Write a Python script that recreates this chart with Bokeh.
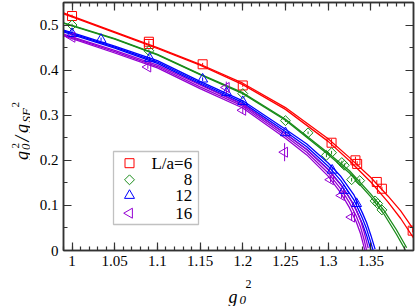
import math
from bokeh.plotting import figure
from bokeh.layouts import row, column
from bokeh.models import Range1d, LinearAxis, FixedTicker, Label, BoxAnnotation
from bokeh.core.properties import value
from bokeh.embed import file_html
from bokeh.resources import INLINE

# ---------------- data ----------------
series_names = ["L/a=6", "8", "12", "16"]

red_x = [1.0, 1.09, 1.09, 1.153, 1.2, 1.304, 1.332, 1.334, 1.357, 1.363, 1.399]
red_y = [0.520, 0.463, 0.458, 0.413, 0.366, 0.239, 0.200, 0.192, 0.152, 0.137, 0.044]
red_e = [0.003, 0.003, 0.003, 0.003, 0.003, 0.008, 0.008, 0.006, 0.004, 0.004, 0.004]

green_x = [1.0, 1.09, 1.2, 1.25, 1.2765, 1.298, 1.304, 1.316, 1.319, 1.3275, 1.337, 1.355, 1.358, 1.363]
green_y = [0.500, 0.443, 0.348, 0.288, 0.261, 0.211, 0.217, 0.195, 0.189, 0.157, 0.155, 0.110, 0.104, 0.090]
green_e = [0.003, 0.003, 0.003, 0.003, 0.003, 0.004, 0.004, 0.004, 0.004, 0.004, 0.004, 0.005, 0.005, 0.004]

blue_x = [1.0, 1.034, 1.0909, 1.153, 1.181, 1.2, 1.25, 1.3047, 1.3184, 1.3333]
blue_y = [0.481, 0.468, 0.426, 0.380, 0.350, 0.330, 0.261, 0.178, 0.133, 0.104]
blue_e = [0.008, 0.004, 0.004, 0.004, 0.004, 0.004, 0.004, 0.006, 0.006, 0.006]

purple_x = [1.0, 1.0888, 1.1807, 1.2, 1.249, 1.3028, 1.3157, 1.3275]
purple_y = [0.473, 0.407, 0.3615, 0.311, 0.218, 0.157, 0.122, 0.074]
purple_e = [0.005, 0.004, 0.013, 0.008, 0.020, 0.006, 0.006, 0.008]

# fitted curves (band lines)
red_cx = [0.99, 1.0, 1.05, 1.1, 1.15, 1.2, 1.25, 1.3, 1.325, 1.35, 1.37, 1.385, 1.4]
red_lo = [0.525, 0.518, 0.483, 0.448, 0.411, 0.368, 0.313, 0.242, 0.199, 0.152, 0.108, 0.071, 0.028]
red_hi = [0.527, 0.520, 0.485, 0.450, 0.413, 0.371, 0.317, 0.248, 0.206, 0.162, 0.121, 0.088, 0.047]

green_cx = [0.99, 1.0, 1.05, 1.1, 1.15, 1.2, 1.25, 1.3, 1.325, 1.35, 1.365, 1.38, 1.392]
green_lo = [0.504, 0.498, 0.469, 0.434, 0.390, 0.348, 0.289, 0.213, 0.172, 0.119, 0.082, 0.036, -0.004]
green_hi = [0.505, 0.499, 0.470, 0.435, 0.391, 0.350, 0.291, 0.216, 0.177, 0.125, 0.090, 0.046, 0.006]

blue_cx = [0.99, 1.0, 1.05, 1.1, 1.15, 1.2, 1.25, 1.275, 1.3, 1.315, 1.33, 1.34, 1.345, 1.35, 1.355]
blue_c = [0.487, 0.481, 0.451, 0.418, 0.372, 0.328, 0.264, 0.230, 0.187, 0.155, 0.113, 0.072, 0.048, 0.018, -0.015]
blue_lo = [0.485, 0.479, 0.449, 0.415, 0.369, 0.324, 0.259, 0.224, 0.180, 0.146, 0.102, 0.060, 0.034, 0.002, -0.030]
blue_hi = [0.489, 0.483, 0.453, 0.421, 0.375, 0.332, 0.269, 0.236, 0.194, 0.164, 0.124, 0.084, 0.062, 0.034, 0.003]

purple_cx = [0.99, 1.0, 1.05, 1.1, 1.15, 1.2, 1.25, 1.275, 1.3, 1.315, 1.325, 1.333, 1.338, 1.342, 1.347]
purple_c = [0.478, 0.472, 0.441, 0.408, 0.363, 0.320, 0.254, 0.218, 0.172, 0.136, 0.106, 0.076, 0.052, 0.025, -0.015]
purple_lo = [0.476, 0.470, 0.438, 0.405, 0.359, 0.316, 0.249, 0.212, 0.165, 0.127, 0.095, 0.063, 0.037, 0.008, -0.035]
purple_hi = [0.480, 0.474, 0.444, 0.411, 0.367, 0.324, 0.259, 0.224, 0.179, 0.145, 0.117, 0.089, 0.067, 0.042, 0.005]

x_ticks = [1.0, 1.05, 1.1, 1.15, 1.2, 1.25, 1.3, 1.35]
x_tick_labels = ["1", "1.05", "1.1", "1.15", "1.2", "1.25", "1.3", "1.35"]
y_ticks = [0.0, 0.1, 0.2, 0.3, 0.4, 0.5]
y_tick_labels = ["0", "0.1", "0.2", "0.3", "0.4", "0.5"]

# ---------------- layout / style ----------------
RED, GREEN, BLUE, PURPLE = "#ff0000", "#1a8c1a", "#0000ff", "#9400d3"
FRAME = "#333333"
SERIF = "Liberation Serif"

YW = 30                # width of the y-label strip
XH = 34                # height of the x-label strip
W, H = 415 - YW, 306 - XH
BL, BR, BT, BB = 33, 2, 2, 22
FW, FH = W - BL - BR, H - BT - BB
X0, X1 = 0.99, 1.40
Y0, Y1 = 0.0, 0.55

p = figure(width=W, height=H, x_range=Range1d(X0, X1), y_range=Range1d(Y0, Y1),
           output_backend="svg", toolbar_location=None, title=None,
           min_border_left=BL, min_border_right=BR, min_border_top=BT, min_border_bottom=BB)
p.grid.visible = False
p.outline_line_color = FRAME
p.outline_line_width = 1.5
p.background_fill_color = "white"
p.border_fill_color = "white"

x_minor = [round(0.99 + 0.01 * i, 2) for i in range(41)]
y_minor = [round(0.05 + 0.1 * i, 2) for i in range(6)]


def style_axis(ax, ticks, minor, labels, show):
    ax.ticker = FixedTicker(ticks=ticks, minor_ticks=minor)
    ax.axis_line_color = FRAME
    ax.axis_line_width = 1.5
    ax.major_tick_in = 8
    ax.major_tick_out = 0
    ax.minor_tick_in = 4
    ax.minor_tick_out = 0
    ax.major_tick_line_color = FRAME
    ax.minor_tick_line_color = FRAME
    ax.major_tick_line_width = 1.2
    ax.minor_tick_line_width = 1.2
    ax.major_label_text_font = SERIF
    if show:
        ax.major_label_overrides = dict(zip(ticks, labels))
        ax.major_label_text_color = "black"
        ax.major_label_text_font_size = "15px"
        ax.major_label_standoff = 5
    else:
        ax.major_label_text_color = None
        ax.major_label_text_font_size = "0px"
        ax.major_label_standoff = 0


style_axis(p.xaxis[0], x_ticks, x_minor, x_tick_labels, True)
style_axis(p.yaxis[0], y_ticks, y_minor, y_tick_labels, True)
top_ax = LinearAxis()
right_ax = LinearAxis()
style_axis(top_ax, x_ticks, x_minor, x_tick_labels, False)
style_axis(right_ax, y_ticks, y_minor, y_tick_labels, False)
p.add_layout(top_ax, "above")
p.add_layout(right_ax, "right")

# curves
for xs, ys, c in [(red_cx, red_lo, RED), (red_cx, red_hi, RED),
                  (green_cx, green_lo, GREEN), (green_cx, green_hi, GREEN),
                  (blue_cx, blue_lo, BLUE), (blue_cx, blue_c, BLUE), (blue_cx, blue_hi, BLUE),
                  (purple_cx, purple_lo, PURPLE), (purple_cx, purple_c, PURPLE), (purple_cx, purple_hi, PURPLE)]:
    p.line(xs, ys, line_color=c, line_width=1.3)

# error bars
for xs, ys, es, c in [(red_x, red_y, red_e, RED), (green_x, green_y, green_e, GREEN),
                      (blue_x, blue_y, blue_e, BLUE), (purple_x, purple_y, purple_e, PURPLE)]:
    p.segment(x0=xs, y0=[y - e for y, e in zip(ys, es)], x1=xs, y1=[y + e for y, e in zip(ys, es)],
              line_color=c, line_width=1)

mk = [
    dict(marker="square", size=9, angle=0.0),
    dict(marker="square", size=7, angle=math.pi / 4),
    dict(marker="triangle", size=10, angle=0.0),
    dict(marker="triangle", size=10, angle=math.pi / 2),
]
colors = [RED, GREEN, BLUE, PURPLE]
pts = [(red_x, red_y), (green_x, green_y), (blue_x, blue_y), (purple_x, purple_y)]
for (xs, ys), c, m in zip(pts, colors, mk):
    p.scatter(xs, ys, fill_color=None, line_color=c, line_width=1, **m)

# legend (manual, for right-aligned labels)
box = BoxAnnotation(left=50, right=135, bottom=26, top=99,
                    left_units="screen", right_units="screen", bottom_units="screen", top_units="screen",
                    fill_color="white", fill_alpha=1.0, line_color=FRAME, line_width=1.3, level="underlay")
p.add_layout(box)
rows = [87.3, 70.7, 55.0, 37.3]
lx = X0 + 66 / FW * (X1 - X0)
for name, c, m, r in zip(series_names, colors, mk, rows):
    ly = Y0 + r / FH * (Y1 - Y0)
    p.scatter([lx], [ly], fill_color=None, line_color=c, line_width=1, **m)
    p.add_layout(Label(x=128.7, y=r, x_units="screen", y_units="screen", text=name,
                       text_font=SERIF, text_font_size="17px", text_align="right",
                       text_baseline="middle", text_color="black"))


def strip(w, h, bl, br, bt, bb):
    # the strip's frame is given the same edges as the main frame, so that
    # the layout's frame alignment does not move it
    f = figure(width=w, height=h, x_range=Range1d(0, w - bl - br), y_range=Range1d(0, h - bt - bb),
               output_backend="svg", toolbar_location=None, title=None,
               min_border_left=bl, min_border_right=br, min_border_top=bt, min_border_bottom=bb,
               x_axis_location=None, y_axis_location=None)
    f.grid.visible = False
    f.outline_line_color = None
    f.background_fill_color = "white"
    f.border_fill_color = "white"
    return f


def txt(f, x, y, t, size, italic=True, angle=0.0):
    f.text(x=[x], y=[y], text=[t], text_font=value(SERIF), text_font_size=value(size),
           text_font_style="italic" if italic else "normal", text_color="black",
           text_align="left", text_baseline="alphabetic", angle=angle)


# x axis label strip: g_0^2 ; frame spans screen x 63..413, y 272..306
xl = strip(W, XH, BL, BR, 0, 0)
txt(xl, 165, 9.5, "g", "18px")
txt(xl, 176, 6.5, "0", "13px")
txt(xl, 182, 22.7, "2", "12px", italic=False)

# y axis label strip: g_0^2 / g_SF^2 (rotated); frame spans screen x 0..30, y 2..250
yl = strip(YW, 306, 0, 0, BT, 306 - BT - FH)
A = math.pi / 2
txt(yl, 21.5, 90.5, "g", "18px", angle=A)
txt(yl, 25.5, 100.5, "0", "13px", angle=A)
txt(yl, 15, 102, "2", "11px", italic=False, angle=A)
txt(yl, 21.5, 109, "/", "20px", angle=A)
txt(yl, 21.5, 117.5, "g", "18px", angle=A)
txt(yl, 25.5, 128, "SF", "13px", angle=A)
txt(yl, 15, 143, "2", "11px", italic=False, angle=A)

layout = row(yl, column(p, xl))
open("out.html", "w").write(file_html(layout, INLINE))
